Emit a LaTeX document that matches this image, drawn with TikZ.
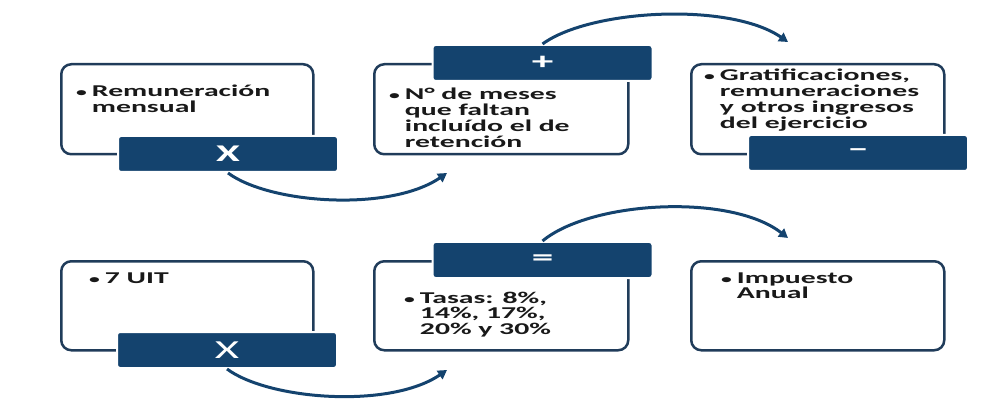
\documentclass[tikz,border=0pt]{standalone}
\usepackage{fontspec}
\setmainfont{Carlito}[FakeStretch=1.8]
\usetikzlibrary{arrows.meta}
\definecolor{navy}{RGB}{20,67,110}
\definecolor{boxline}{RGB}{32,60,90}
\definecolor{txtc}{RGB}{25,25,25}
\begin{document}
\begin{tikzpicture}[x=1pt,y=-1pt,
  infobox/.style={draw=boxline,line width=2.5pt,rounded corners=10pt,anchor=north west,inner sep=0pt,fill=white},
  opbox/.style={fill=navy,draw=white,line width=2pt,rounded corners=3pt,minimum width=220pt,minimum height=36pt,inner sep=0pt,text=white,font=\fontsize{24}{24}\selectfont\bfseries},
  opboxlight/.style={opbox,font=\fontsize{26}{26}\selectfont},
  bodytext/.style={anchor=base west,inner sep=0pt,text=txtc,font=\fontsize{16.5}{14.5}\selectfont\bfseries},
  conn/.style={draw=navy,line width=3pt,-{Triangle[length=9pt,width=10pt]}}
]
\useasboundingbox (0,0) rectangle (1003,403);
% info boxes
\node[infobox,minimum width=252pt,minimum height=90pt] (b1) at (60,63) {};
\node[infobox,minimum width=254pt,minimum height=90pt] (b2) at (373,63) {};
\node[infobox,minimum width=253pt,minimum height=90pt] (b3) at (690,63) {};
\node[infobox,minimum width=252pt,minimum height=89pt] (b4) at (60,260) {};
\node[infobox,minimum width=254pt,minimum height=89pt] (b5) at (373,260) {};
\node[infobox,minimum width=253pt,minimum height=89pt] (b6) at (690,260) {};
% operator boxes
\node[opbox] (l1) at (228,154) {X};
\node[opbox] (l2) at (542.5,63) {+};
\node[opbox] (l3) at (858,153) {–};
\node[opboxlight] (l4) at (227,350) {X};
\node[opbox] (l5) at (542.5,260) {=};
% texts
\newcommand{\bul}[1]{\begin{tabular}[t]{@{}l@{\hspace{5pt}}l@{}}{\fontsize{12}{12}\selectfont\textbullet} & #1\end{tabular}}
\node[bodytext] (t1) at (76,97) {\bul{Remuneración\\ & mensual}};
\node[bodytext] (t2) at (389,100) {\bul{N° de meses\\ & que faltan\\ & incluído el de\\ & retención}};
\node[bodytext] (t3) at (704,81) {\bul{Gratificaciones,\\ & remuneraciones\\ & y otros ingresos\\ & del ejercicio}};
\node[bodytext] (t4) at (89,283) {\bul{7 UIT}};
\node[bodytext] (t5) at (404,303) {\bul{Tasas: 8\%,\\ & 14\%, 17\%,\\ & 20\% y 30\%}};
\node[bodytext] (t6) at (721,283) {\bul{Impuesto\\ & Anual}};
% arrow ends
\coordinate (e1) at (447,173);
\coordinate (e2) at (788,42);
\coordinate (e3) at (447,370);
\coordinate (e4) at (788,238);
% connectors
\draw[conn] (l1.south) .. controls +(42,31) and +(-57,39) .. (e1);
\draw[conn] (l2.north) .. controls +(48,-35) and +(-58,-40) .. (e2);
\draw[conn] (l4.south) .. controls +(42,31) and +(-57,39) .. (e3);
\draw[conn] (l5.north) .. controls +(48,-40) and +(-58,-45) .. (e4);
\end{tikzpicture}
\end{document}
